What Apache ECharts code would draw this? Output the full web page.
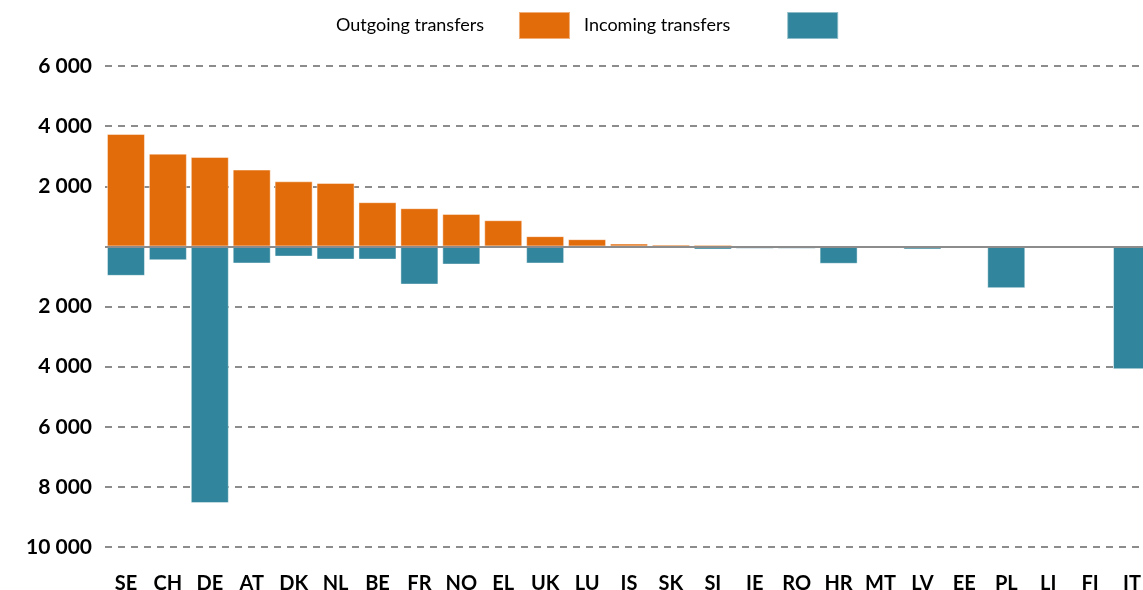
<!DOCTYPE html>
<html>
<head>
<meta charset="utf-8">
<script src="https://cdn.jsdelivr.net/npm/echarts@6/dist/echarts.min.js"></script>
<style>
	html, body { margin: 0; padding: 0; background: #fff; }
	#main { width: 1143px; height: 590px; }
</style>
</head>
<body>
<div id="main"></div>
<script>
// 国家
var countries = ['SE', 'CH', 'DE', 'AT', 'DK', 'NL', 'BE', 'FR', 'NO', 'EL', 'UK', 'LU', 'IS',
		'SK', 'SI', 'IE', 'RO', 'HR', 'MT', 'LV', 'EE', 'PL', 'LI', 'FI', 'IT'];
// 转出 (正值)
var outgoing = [3740, 3085, 2975, 2555, 2165, 2110, 1470, 1270, 1080, 870, 340, 240, 93,
		60, 50, 30, 30, 0, 0, 0, 0, 0, 0, 0, 0];
// 转入 (负值显示在下方)
var incoming = [-980, -460, -8540, -570, -340, -440, -440, -1270, -605, 0, -570, -60, 0,
		0, -105, -80, -80, -580, -50, -100, 0, -1390, 0, 0, -4085];
// 纵轴范围
var yMin = -10000, yMax = 6000, yStep = 2000;

var orange = '#E36C0A', teal = '#31859C';

function fmtTick(v) {
	if (v == 0) return '';
	var s = String(Math.abs(v));
	return s.replace(/\B(?=(\d{3})+(?!\d))/g, ' ');
}

// 图例 (文字在左, 色块在右)
function makeLegend(name, left, padRight) {
	return {
		top : 6,
		left : left,
		align : 'right',
		itemWidth : 51,
		itemHeight : 27,
		icon : 'rect',
		textStyle : {
			fontSize : 18,
			color : '#000',
			fontFamily : 'Lato',
			padding : [ 0, padRight, 0, 0 ]
		},
		data : [ name ]
	};
}

var chart = echarts.init(document.getElementById('main'));
var option = {
	animation : false,
	textStyle : {
		fontFamily : 'Lato'
	},
	legend : [ makeLegend('Outgoing transfers', 331, 30),
			makeLegend('Incoming transfers', 579, 52) ],
	grid : {
		left : 105,
		right : -10,
		top : 66,
		bottom : 43,
		outerBoundsMode : 'none',
		containLabel : false
	},
	xAxis : {
		type : 'category',
		data : countries,
		position : 'bottom',
		axisLine : { show : false, onZero : false },
		axisTick : { show : false },
		axisLabel : {
			margin : 27,
			fontSize : 20,
			fontWeight : 'bold',
			color : '#000',
			fontFamily : 'Lato',
			interval : 0
		}
	},
	yAxis : {
		type : 'value',
		min : yMin,
		max : yMax,
		interval : yStep,
		axisLine : { show : false },
		axisTick : { show : false },
		axisLabel : {
			margin : 13,
			fontSize : 21,
			fontWeight : 'bold',
			color : '#000',
			fontFamily : 'Lato',
			formatter : fmtTick
		},
		splitLine : {
			lineStyle : {
				color : '#8c8c8c',
				width : 2,
				type : [ 7, 6 ]
			}
		}
	},
	series : [ {
		name : 'Outgoing transfers',
		type : 'bar',
		data : outgoing,
		barWidth : 38,
		barGap : '-100%',
		itemStyle : {
			color : orange,
			borderColor : 'rgba(255,255,255,0.45)',
			borderWidth : 1
		},
		markLine : {
			silent : true,
			symbol : [ 'none', 'none' ],
			label : { show : false },
			lineStyle : { color : '#8c8c8c', width : 2, type : 'solid' },
			data : [ { yAxis : 0 } ]
		}
	}, {
		name : 'Incoming transfers',
		type : 'bar',
		data : incoming,
		barWidth : 38,
		barGap : '-100%',
		itemStyle : {
			color : teal,
			borderColor : 'rgba(255,255,255,0.45)',
			borderWidth : 1
		}
	} ]
};
chart.setOption(option);
</script>
</body>
</html>
